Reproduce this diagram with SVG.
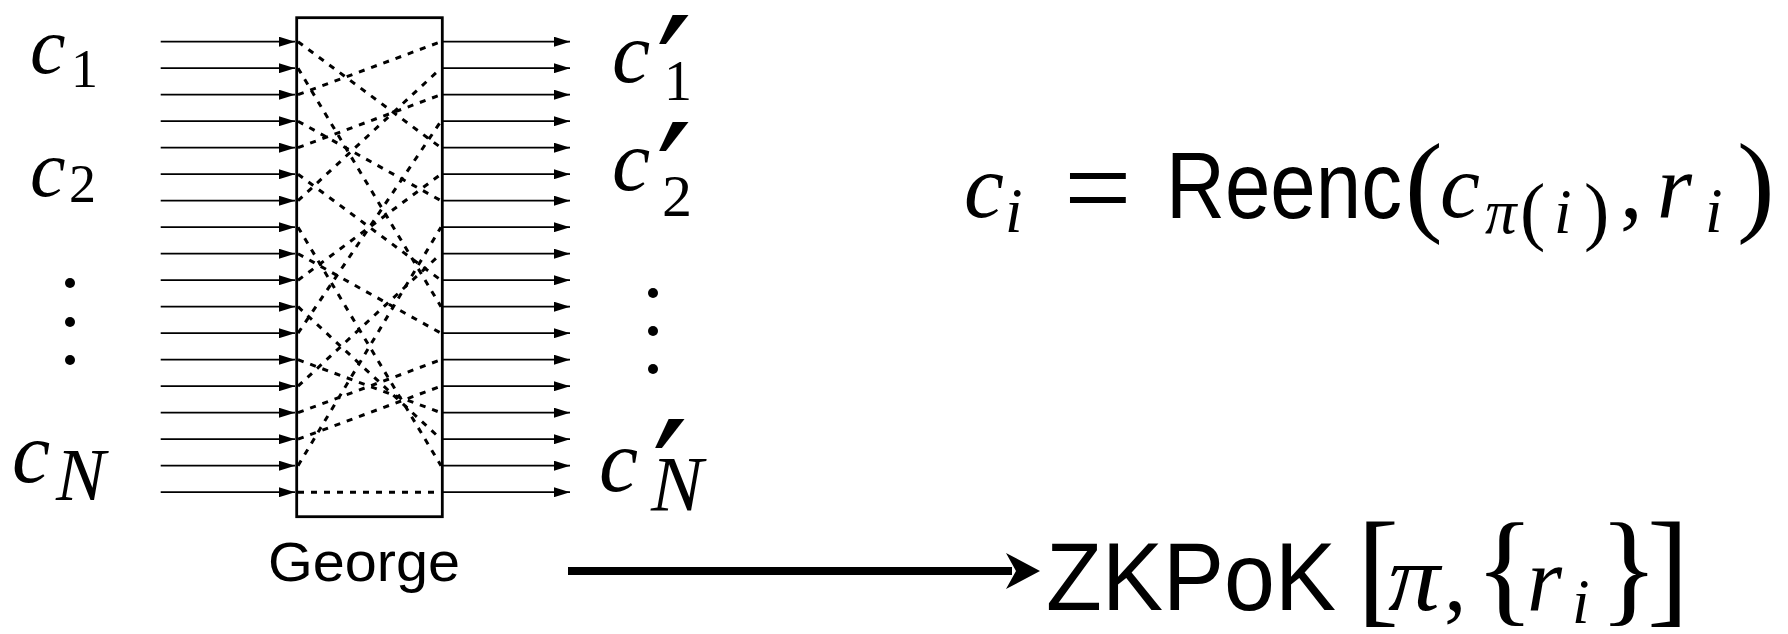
<svg xmlns="http://www.w3.org/2000/svg" width="1788" height="634" viewBox="0 0 1788 634">
  <style>
    .mi { font-family: "Liberation Serif", "Times New Roman", serif; font-style: italic; fill: #000; }
    .rm { font-family: "Liberation Serif", "Times New Roman", serif; fill: #000; }
    .sf { font-family: "Liberation Sans", Arial, sans-serif; fill: #000; }
    .pr { font-family: "DejaVu Serif", serif; fill: #000; font-size: 160px; }
    .arr { stroke: #000; stroke-width: 1.8; fill: none; }
    .perm { stroke: #000; stroke-width: 3; stroke-dasharray: 6 7; fill: none; }
  </style>
  <defs>
    <marker id="ah" markerWidth="16" markerHeight="10" refX="16" refY="5" orient="auto" markerUnits="userSpaceOnUse">
      <path d="M0,0 L16,5 L0,10 z" fill="#000"/>
    </marker>
  </defs>
  <rect width="1788" height="634" fill="#fff"/>

  <g id="input-labels">
    <text class="mi" x="30" y="73" font-size="80">c</text>
    <text class="rm" x="71" y="87" font-size="54">1</text>
    <text class="mi" x="30" y="196" font-size="80">c</text>
    <text class="rm" x="69" y="202" font-size="54">2</text>
    <circle cx="70" cy="283" r="5"/>
    <circle cx="70" cy="322" r="5"/>
    <circle cx="70" cy="360" r="5"/>
    <text class="mi" x="12" y="482" font-size="86">c</text>
    <text class="mi" x="56" y="500" font-size="74">N</text>
  </g>

  <g id="george">
    <rect x="296.7" y="17.7" width="145.6" height="499" fill="none" stroke="#000" stroke-width="2.8"/>
    <text class="sf" x="268" y="581" font-size="55" textLength="192" lengthAdjust="spacingAndGlyphs">George</text>
  </g>

  <g id="output-labels">
    <text class="mi" x="612" y="82" font-size="86">c</text>
    <text class="pr" x="656" y="131">′</text>
    <text class="rm" x="664" y="100" font-size="56">1</text>
    <text class="mi" x="612" y="190" font-size="86">c</text>
    <text class="pr" x="656" y="238">′</text>
    <text class="rm" x="662" y="216" font-size="60">2</text>
    <circle cx="653" cy="293" r="5"/>
    <circle cx="653" cy="331" r="5"/>
    <circle cx="653" cy="369" r="5"/>
    <text class="mi" x="599" y="491" font-size="88">c</text>
    <text class="pr" x="652" y="535">′</text>
    <text class="mi" x="651" y="510" font-size="78">N</text>
  </g>

  <g id="equation">
    <text class="mi" x="964" y="217" font-size="90">c</text>
    <text class="mi" x="1005" y="232" font-size="63">i</text>
    <text class="rm" x="1064" y="228" font-size="120">=</text>
    <text class="sf" x="1166" y="218" font-size="94" textLength="236" lengthAdjust="spacingAndGlyphs">Reenc</text>
    <text class="rm" x="1405" y="221" font-size="113">(</text>
    <text class="mi" x="1440" y="217" font-size="90">c</text>
    <text class="mi" x="1485" y="233" font-size="63">π</text>
    <text class="rm" x="1520" y="236" font-size="76">(</text>
    <text class="mi" x="1554" y="233" font-size="63">i</text>
    <text class="rm" x="1584" y="236" font-size="76">)</text>
    <text class="rm" x="1620" y="217" font-size="90">,</text>
    <text class="mi" x="1657" y="217" font-size="90">r</text>
    <text class="mi" x="1705" y="232" font-size="63">i</text>
    <text class="rm" x="1737" y="221" font-size="113">)</text>
  </g>

  <g id="zkpok">
    <text class="sf" x="1046" y="610" font-size="97" textLength="290" lengthAdjust="spacingAndGlyphs">ZKPoK</text>
    <text class="rm" x="1357" y="610" font-size="126">[</text>
    <text class="mi" x="1388" y="610" font-size="96" textLength="52" lengthAdjust="spacingAndGlyphs">π</text>
    <text class="rm" x="1444" y="610" font-size="90">,</text>
    <text class="rm" x="1475" y="609" font-size="124">{</text>
    <text class="mi" x="1527" y="610" font-size="90">r</text>
    <text class="mi" x="1572" y="623" font-size="63">i</text>
    <text class="rm" x="1599" y="609" font-size="124">}</text>
    <text class="rm" x="1647" y="610" font-size="126">]</text>
  </g>

  <g id="connectors">
    <g id="input-arrows" class="arr">
      <line x1="160.7" y1="41.7" x2="295" y2="41.7" marker-end="url(#ah)"/>
      <line x1="160.7" y1="68.2" x2="295" y2="68.2" marker-end="url(#ah)"/>
      <line x1="160.7" y1="94.7" x2="295" y2="94.7" marker-end="url(#ah)"/>
      <line x1="160.7" y1="121.2" x2="295" y2="121.2" marker-end="url(#ah)"/>
      <line x1="160.7" y1="147.7" x2="295" y2="147.7" marker-end="url(#ah)"/>
      <line x1="160.7" y1="174.2" x2="295" y2="174.2" marker-end="url(#ah)"/>
      <line x1="160.7" y1="200.7" x2="295" y2="200.7" marker-end="url(#ah)"/>
      <line x1="160.7" y1="227.2" x2="295" y2="227.2" marker-end="url(#ah)"/>
      <line x1="160.7" y1="253.7" x2="295" y2="253.7" marker-end="url(#ah)"/>
      <line x1="160.7" y1="280.2" x2="295" y2="280.2" marker-end="url(#ah)"/>
      <line x1="160.7" y1="306.7" x2="295" y2="306.7" marker-end="url(#ah)"/>
      <line x1="160.7" y1="333.2" x2="295" y2="333.2" marker-end="url(#ah)"/>
      <line x1="160.7" y1="359.7" x2="295" y2="359.7" marker-end="url(#ah)"/>
      <line x1="160.7" y1="386.2" x2="295" y2="386.2" marker-end="url(#ah)"/>
      <line x1="160.7" y1="412.7" x2="295" y2="412.7" marker-end="url(#ah)"/>
      <line x1="160.7" y1="439.2" x2="295" y2="439.2" marker-end="url(#ah)"/>
      <line x1="160.7" y1="465.7" x2="295" y2="465.7" marker-end="url(#ah)"/>
      <line x1="160.7" y1="492.2" x2="295" y2="492.2" marker-end="url(#ah)"/>
    </g>
    <g id="output-arrows" class="arr">
      <line x1="442" y1="41.7" x2="570" y2="41.7" marker-end="url(#ah)"/>
      <line x1="442" y1="68.2" x2="570" y2="68.2" marker-end="url(#ah)"/>
      <line x1="442" y1="94.7" x2="570" y2="94.7" marker-end="url(#ah)"/>
      <line x1="442" y1="121.2" x2="570" y2="121.2" marker-end="url(#ah)"/>
      <line x1="442" y1="147.7" x2="570" y2="147.7" marker-end="url(#ah)"/>
      <line x1="442" y1="174.2" x2="570" y2="174.2" marker-end="url(#ah)"/>
      <line x1="442" y1="200.7" x2="570" y2="200.7" marker-end="url(#ah)"/>
      <line x1="442" y1="227.2" x2="570" y2="227.2" marker-end="url(#ah)"/>
      <line x1="442" y1="253.7" x2="570" y2="253.7" marker-end="url(#ah)"/>
      <line x1="442" y1="280.2" x2="570" y2="280.2" marker-end="url(#ah)"/>
      <line x1="442" y1="306.7" x2="570" y2="306.7" marker-end="url(#ah)"/>
      <line x1="442" y1="333.2" x2="570" y2="333.2" marker-end="url(#ah)"/>
      <line x1="442" y1="359.7" x2="570" y2="359.7" marker-end="url(#ah)"/>
      <line x1="442" y1="386.2" x2="570" y2="386.2" marker-end="url(#ah)"/>
      <line x1="442" y1="412.7" x2="570" y2="412.7" marker-end="url(#ah)"/>
      <line x1="442" y1="439.2" x2="570" y2="439.2" marker-end="url(#ah)"/>
      <line x1="442" y1="465.7" x2="570" y2="465.7" marker-end="url(#ah)"/>
      <line x1="442" y1="492.2" x2="570" y2="492.2" marker-end="url(#ah)"/>
    </g>
    <g id="permutation" class="perm">
      <line x1="298" y1="41.7" x2="441" y2="147.7"/>
      <line x1="298" y1="68.2" x2="441" y2="306.7"/>
      <line x1="298" y1="94.7" x2="441" y2="41.7"/>
      <line x1="298" y1="121.2" x2="441" y2="200.7"/>
      <line x1="298" y1="147.7" x2="441" y2="94.7"/>
      <line x1="298" y1="174.2" x2="441" y2="280.2"/>
      <line x1="298" y1="200.7" x2="441" y2="68.2"/>
      <line x1="298" y1="227.2" x2="441" y2="465.7"/>
      <line x1="298" y1="253.7" x2="441" y2="333.2"/>
      <line x1="298" y1="280.2" x2="441" y2="174.2"/>
      <line x1="298" y1="306.7" x2="441" y2="439.2"/>
      <line x1="298" y1="333.2" x2="441" y2="121.2"/>
      <line x1="298" y1="359.7" x2="441" y2="412.7"/>
      <line x1="298" y1="386.2" x2="441" y2="253.7"/>
      <line x1="298" y1="412.7" x2="441" y2="359.7"/>
      <line x1="298" y1="439.2" x2="441" y2="386.2"/>
      <line x1="298" y1="465.7" x2="441" y2="227.2"/>
      <line x1="298" y1="492.2" x2="441" y2="492.2"/>
    </g>
    <g id="zkpok-arrow">
      <line x1="568" y1="571" x2="1012" y2="571" stroke="#000" stroke-width="8"/>
      <polygon points="1006,553 1040,571 1006,589 1016,571" fill="#000"/>
    </g>
  </g>
</svg>
